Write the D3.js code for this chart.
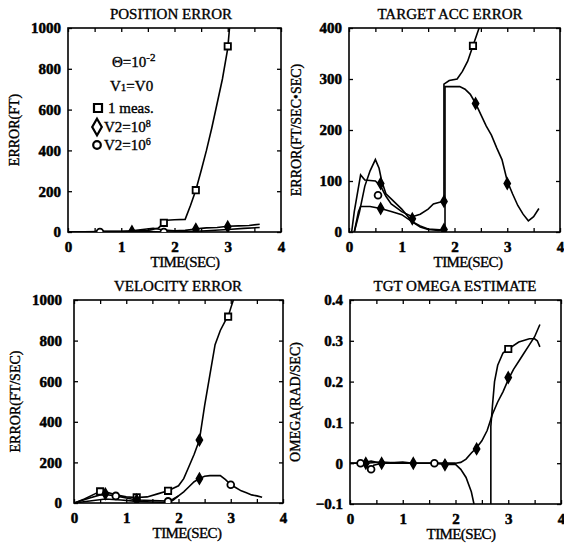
<!DOCTYPE html>
<html>
<head>
<meta charset="utf-8">
<script src="https://cdn.jsdelivr.net/npm/d3@7.8.5/dist/d3.min.js"></script>
<style>
  body { margin: 0; background: #fff; }
  svg { display: block; }
  text { font-family: "Liberation Serif", "DejaVu Serif", serif; fill: #000; stroke: #000; stroke-width: 0.35px; }
</style>
</head>
<body>
<svg width="564" height="550"></svg>
<script>
// ---- data ----
const timeTicks = [0, 1, 2, 3, 4];
const timeMinor = [0, 0.5, 1, 1.5, 2, 2.5, 3, 3.5, 4];
const posTicks = [0, 200, 400, 600, 800, 1000];
const accTicks = [0, 100, 200, 300, 400];
const velTicks = [0, 200, 400, 600, 800, 1000];
const omegaTicks = [-0.1, 0, 0.1, 0.2, 0.3, 0.4];

// position error
const posSquare = [[0,0],[0.6,2],[1.2,4],[1.5,8],[1.7,20],[1.8,45],[1.85,58],[2.0,60],[2.2,62],[2.3,130],[2.4,205],[2.5,300],[2.6,400],[2.7,510],[2.8,630],[2.9,750],[3.0,900],[3.03,990],[3.06,1080]];
const posDiamond = [[0,0],[0.5,2],[0.6,4],[1.0,3],[1.2,6],[1.4,12],[1.6,18],[1.8,10],[2.0,6],[2.2,8],[2.4,15],[2.5,18],[2.6,20],[2.8,22],[3.0,28],[3.2,30],[3.4,32],[3.6,38]];
const posCircle = [[0,0],[0.6,-2],[1.0,0],[1.2,2],[1.5,3],[1.8,-2],[2.0,0],[2.4,4],[2.6,6],[3.0,12],[3.3,18],[3.6,22]];
const posOpenSq = [[1.8,45],[2.4,205],[3.0,910]];
const posFilled = [[1.2,3],[2.4,14],[3.0,26]];
const posOpenCir = [[0.6,0],[1.8,0]];

// target acc error
const accSquare = [[0.05,0],[0.1,40],[0.22,112],[0.3,102],[0.5,100],[0.6,90],[0.7,70],[0.8,55],[1.0,40],[1.2,30],[1.35,35],[1.5,45],[1.6,55],[1.7,58],[1.8,60],[1.8,290],[1.9,297],[2.05,300],[2.15,315],[2.25,335],[2.35,365],[2.45,395],[2.5,410]];
const accDiamond = [[0.1,0],[0.2,40],[0.3,90],[0.4,120],[0.5,142],[0.57,125],[0.62,100],[0.7,75],[0.8,65],[1.0,45],[1.2,20],[1.35,10],[1.5,5],[1.7,3],[1.82,5],[1.82,285],[2.1,285],[2.2,280],[2.3,270],[2.4,252],[2.5,230],[2.6,208],[2.7,190],[2.8,165],[2.9,142],[3.0,100],[3.1,75],[3.2,52],[3.3,35],[3.4,22],[3.5,30],[3.6,46]];
const accCircle = [[0.1,0],[0.18,40],[0.22,50],[0.4,50],[0.6,46],[0.8,40],[1.0,34],[1.2,20],[1.35,12],[1.5,6],[1.8,4]];
const accOpenSq = [[2.35,365]];
const accFilled = [[0.6,95],[0.6,46],[1.2,26],[1.8,60],[1.8,5],[2.4,252],[3.0,95]];
const accOpenCir = [[0.55,72]];

// velocity error
const velSquare = [[0,0],[0.2,20],[0.4,45],[0.5,57],[0.6,55],[0.8,40],[1.0,30],[1.2,27],[1.4,30],[1.6,45],[1.8,60],[2.0,85],[2.1,120],[2.2,180],[2.3,240],[2.4,310],[2.5,480],[2.6,630],[2.7,780],[2.8,850],[2.9,900],[2.95,918],[3.0,960],[3.05,1000],[3.1,1080]];
const velDiamond = [[0,0],[0.3,25],[0.5,40],[0.6,42],[0.8,35],[1.0,25],[1.2,15],[1.5,12],[1.8,10],[1.9,20],[2.0,35],[2.1,55],[2.2,80],[2.3,105],[2.4,120],[2.5,132],[2.6,135],[2.8,135],[2.9,115],[3.0,90],[3.1,75],[3.2,60],[3.3,50],[3.4,40],[3.5,35],[3.6,28]];
const velCircle = [[0,0],[0.3,10],[0.6,20],[0.9,15],[1.2,8],[1.5,5],[1.8,3],[1.9,15],[2.0,35]];
const velOpenSq = [[0.5,57],[1.2,28],[1.8,60],[2.95,918]];
const velFilled = [[0.6,45],[1.2,15],[2.4,310],[2.4,120]];
const velOpenCir = [[0.8,35],[1.8,8],[3.0,90]];

// tgt omega estimate
const omSquare = [[0,0],[0.2,0],[0.4,0.005],[0.6,0],[1.0,0.003],[1.2,0],[1.6,0],[1.8,-0.003],[2.0,-0.003],[2.1,-0.015],[2.2,-0.035],[2.3,-0.07],[2.35,-0.1],[2.4,-0.14],[2.67,-0.4],[2.67,0.09],[2.7,0.14],[2.74,0.2],[2.8,0.24],[2.9,0.27],[3.0,0.28],[3.2,0.297],[3.4,0.305],[3.5,0.305],[3.55,0.3],[3.6,0.285]];
const omDiamond = [[0,0],[0.3,0],[0.6,0.003],[1.0,0],[1.2,0],[1.6,0],[1.8,0],[2.0,0],[2.1,0.002],[2.2,0.01],[2.3,0.025],[2.4,0.038],[2.5,0.055],[2.6,0.08],[2.65,0.1],[2.7,0.12],[2.8,0.15],[2.9,0.175],[3.0,0.205],[3.1,0.23],[3.2,0.25],[3.3,0.27],[3.4,0.29],[3.5,0.31],[3.6,0.34]];
const omCircle = [[0,0],[0.2,0],[0.3,-0.005],[0.4,-0.018],[0.45,-0.005],[0.6,0],[1.2,0],[1.6,0],[1.8,0],[2.0,0]];
const omOpenSq = [[3.0,0.28]];
const omFilled = [[0.3,0],[0.6,0],[1.2,0],[1.8,-0.004],[2.4,0.035],[3.0,0.21]];
const omOpenCir = [[0.2,0],[0.4,-0.015],[1.6,0]];

// ---- panels ----
const panels = [
  { title: "POSITION ERROR", ylabel: "ERROR(FT)", box: [68, 28, 281, 232], ydom: [0, 1000], yticks: posTicks,
    yfmt: d3.format("d"), lines: [posSquare, posDiamond, posCircle], sq: posOpenSq, fill: posFilled, cir: posOpenCir,
    titleX: 171, xlabX: 185, ylabX: 19 },
  { title: "TARGET ACC ERROR", ylabel: "ERROR(FT/SEC\u2022SEC)", box: [349, 28, 560, 232], ydom: [0, 400], yticks: accTicks,
    yfmt: d3.format("d"), lines: [accSquare, accDiamond, accCircle], sq: accOpenSq, fill: accFilled, cir: accOpenCir,
    titleX: 450, xlabX: 468, ylabX: 301 },
  { title: "VELOCITY ERROR", ylabel: "ERROR(FT/SEC)", box: [74, 300, 283, 503], ydom: [0, 1000], yticks: velTicks,
    yfmt: d3.format("d"), lines: [velSquare, velDiamond, velCircle], sq: velOpenSq, fill: velFilled, cir: velOpenCir,
    titleX: 178, xlabX: 187, ylabX: 20 },
  { title: "TGT OMEGA ESTIMATE", ylabel: "OMEGA(RAD/SEC)", box: [350, 300, 561, 504], ydom: [-0.1, 0.4], yticks: omegaTicks,
    yfmt: d => (d === 0 ? "0" : d3.format(".1f")(d)), lines: [omSquare, omDiamond, omCircle], sq: omOpenSq, fill: omFilled, cir: omOpenCir,
    titleX: 455, xlabX: 461, ylabX: 300 }
];

const svg = d3.select("svg");

panels.forEach((p, i) => {
  const [x0, y0, x1, y1] = p.box;
  const x = d3.scaleLinear().domain([0, 4]).range([x0, x1]);
  const y = d3.scaleLinear().domain(p.ydom).range([y1, y0]);
  const g = svg.append("g");

  const clipId = "clip" + i;
  svg.append("clipPath").attr("id", clipId)
    .append("rect").attr("x", x0).attr("y", y0).attr("width", x1 - x0).attr("height", y1 - y0);

  // inner ticks on all four sides
  const bottom = g.append("g").attr("transform", `translate(0,${y1})`)
    .call(d3.axisBottom(x).tickValues(timeMinor).tickSize(-4).tickPadding(9)
      .tickFormat(d => (Number.isInteger(d) ? d : "")));
  g.append("g").attr("transform", `translate(0,${y0})`)
    .call(d3.axisTop(x).tickValues(timeMinor).tickSize(-4).tickFormat(""));
  const left = g.append("g").attr("transform", `translate(${x0},0)`)
    .call(d3.axisLeft(y).tickValues(p.yticks).tickSize(-4).tickPadding(i === 2 ? 12 : 7).tickFormat(p.yfmt));
  g.append("g").attr("transform", `translate(${x1},0)`)
    .call(d3.axisRight(y).tickValues(p.yticks).tickSize(-4).tickFormat(""));
  g.selectAll(".domain").remove();
  g.selectAll(".tick line").attr("stroke", "#000").attr("stroke-width", 1.3);
  [bottom, left].forEach(a => a.selectAll("text")
    .style("font-family", '"Liberation Serif", serif').style("font-size", "15px")
    .style("font-weight", "bold").style("stroke-width", "0.5px").attr("fill", "#000"));

  g.append("rect").attr("x", x0).attr("y", y0).attr("width", x1 - x0).attr("height", y1 - y0)
    .attr("fill", "none").attr("stroke", "#000").attr("stroke-width", 1.6);

  const line = d3.line().x(d => x(d[0])).y(d => y(d[1]));
  const plot = g.append("g").attr("clip-path", `url(#${clipId})`);
  plot.selectAll("path.series").data(p.lines).join("path").attr("class", "series")
    .attr("d", line).attr("fill", "none").attr("stroke", "#000").attr("stroke-width", 1.6);

  plot.selectAll("path.sq").data(p.sq).join("path").attr("class", "sq")
    .attr("transform", d => `translate(${x(d[0])},${y(d[1])})`)
    .attr("d", d3.symbol(d3.symbolSquare, 40)).attr("fill", "#fff").attr("stroke", "#000").attr("stroke-width", 1.8);
  plot.selectAll("path.fl").data(p.fill).join("path").attr("class", "fl")
    .attr("transform", d => `translate(${x(d[0])},${y(d[1])})`)
    .attr("d", d3.symbol(d3.symbolDiamond, 34)).attr("fill", "#000").attr("stroke", "#000").attr("stroke-width", 1.5);
  plot.selectAll("circle.ci").data(p.cir).join("circle").attr("class", "ci")
    .attr("cx", d => x(d[0])).attr("cy", d => y(d[1])).attr("r", 3.4)
    .attr("fill", "#fff").attr("stroke", "#000").attr("stroke-width", 1.8);

  g.append("text").attr("x", p.titleX).attr("y", y0 - 9).attr("text-anchor", "middle")
    .style("font-size", "15px").text(p.title);
  g.append("text").attr("x", p.xlabX).attr("y", y1 + 35).attr("text-anchor", "middle")
    .style("font-size", "15px").style("letter-spacing", "-0.6px").text("TIME(SEC)");
  g.append("text").attr("transform", `translate(${p.ylabX},${(y0 + y1) / 2}) rotate(-90)`)
    .attr("text-anchor", "middle").style("font-size", "14px").text(p.ylabel);
});

// legend in the position error panel
const lg = svg.append("g").style("font-size", "15px");
const theta = lg.append("text").attr("x", 112).attr("y", 67);
theta.append("tspan").text("\u0398=10");
theta.append("tspan").attr("dy", -6).style("font-size", "11px").text("-2");
const v1 = lg.append("text").attr("x", 110).attr("y", 91);
v1.append("tspan").text("V");
v1.append("tspan").style("font-size", "11px").text("1");
v1.append("tspan").text("=V0");
lg.append("path").attr("transform", "translate(98,108)").attr("d", d3.symbol(d3.symbolSquare, 64))
  .attr("fill", "#fff").attr("stroke", "#000").attr("stroke-width", 2.2);
lg.append("text").attr("x", 108).attr("y", 113).text("1 meas.");
lg.append("path").attr("transform", "translate(97,127)").attr("d", d3.symbol(d3.symbolDiamond, 80))
  .attr("fill", "#fff").attr("stroke", "#000").attr("stroke-width", 2.2);
const v28 = lg.append("text").attr("x", 104).attr("y", 132);
v28.append("tspan").text("V2=10");
v28.append("tspan").attr("dy", -5).style("font-size", "10px").text("8");
lg.append("circle").attr("cx", 97).attr("cy", 145).attr("r", 3.8)
  .attr("fill", "#fff").attr("stroke", "#000").attr("stroke-width", 2.2);
const v26 = lg.append("text").attr("x", 104).attr("y", 150);
v26.append("tspan").text("V2=10");
v26.append("tspan").attr("dy", -5).style("font-size", "10px").text("6");
</script>
</body>
</html>
